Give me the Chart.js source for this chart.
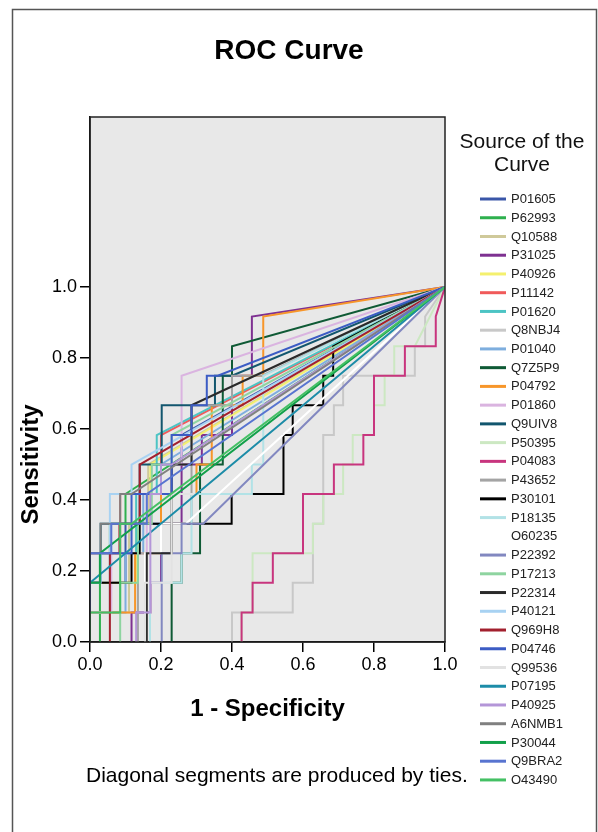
<!DOCTYPE html>
<html>
<head>
<meta charset="utf-8">
<script src="https://cdn.jsdelivr.net/npm/chart.js@4.4.0/dist/chart.umd.min.js"></script>
<style>
  html, body { margin: 0; padding: 0; background: #fff; }
  #wrap { width: 598px; height: 832px; }
</style>
</head>
<body>
<div id="wrap"><canvas id="roc" width="598" height="832"></canvas></div>
<script>
/* ---------- ROC curve data: [1 - specificity, sensitivity] ---------- */
const P01605 = [[0,0],[0,0.167],[0.1,0.167],[0.1,0.333],[0.2,0.333],[0.2,0.5],[0.258,0.5],[0.258,0.583],[1,1]];
const P62993 = [[0.028,0],[0.028,0.25],[0.056,0.25],[0.056,0.333],[0.1,0.333],[0.1,0.417],[1,1]];
const Q10588 = [[0,0],[0,0.083],[0.11,0.083],[0.11,0.333],[0.164,0.333],[0.164,0.5],[1,1]];
const P31025 = [[0.117,0],[0.117,0.083],[0.17,0.083],[0.17,0.167],[0.2,0.167],[0.2,0.333],[0.258,0.333],[0.258,0.5],[0.315,0.5],[0.315,0.583],[0.4,0.583],[0.4,0.75],[0.456,0.75],[0.456,0.917],[1,1]];
const P40926 = [[0,0],[0,0.167],[0.13,0.167],[0.13,0.333],[0.17,0.333],[0.17,0.5],[1,1]];
const P11142 = [[0,0],[0,0.25],[0.085,0.25],[0.085,0.417],[0.2,0.417],[0.2,0.583],[1,1]];
const P01620 = [[0,0],[0,0.083],[0.056,0.083],[0.056,0.25],[0.13,0.25],[0.13,0.417],[0.188,0.417],[0.188,0.583],[1,1]];
const Q8NBJ4 = [[0.4,0],[0.4,0.083],[0.571,0.083],[0.571,0.167],[0.628,0.167],[0.628,0.333],[0.657,0.333],[0.657,0.583],[0.687,0.583],[0.687,0.667],[0.713,0.667],[0.713,0.75],[0.915,0.75],[0.915,0.833],[0.944,0.833],[0.944,0.917],[1,1]];
const P01040 = [[0,0],[0,0.083],[0.1,0.083],[0.1,0.25],[0.15,0.25],[0.15,0.417],[0.2,0.417],[0.2,0.5],[1,1]];
const Q7Z5P9 = [[0.23,0],[0.23,0.167],[0.258,0.167],[0.258,0.25],[0.31,0.25],[0.31,0.5],[0.374,0.5],[0.374,0.75],[0.4,0.75],[0.4,0.833],[1,1]];
const P04792 = [[0,0],[0,0.083],[0.127,0.083],[0.127,0.25],[0.2,0.25],[0.2,0.417],[0.3,0.417],[0.3,0.5],[0.343,0.5],[0.343,0.667],[0.43,0.667],[0.43,0.75],[0.488,0.75],[0.488,0.917],[1,1]];
const P01860 = [[0,0],[0,0.083],[0.06,0.083],[0.06,0.25],[0.16,0.25],[0.16,0.417],[0.23,0.417],[0.23,0.5],[0.258,0.5],[0.258,0.75],[1,1]];
const Q9UIV8 = [[0,0],[0,0.167],[0.03,0.167],[0.03,0.333],[0.14,0.333],[0.14,0.5],[0.202,0.5],[0.202,0.667],[0.352,0.667],[0.352,0.75],[0.4,0.75],[1,1]];
const P50395 = [[0.427,0],[0.427,0.083],[0.458,0.083],[0.458,0.25],[0.628,0.25],[0.628,0.333],[0.657,0.333],[0.657,0.417],[0.713,0.417],[0.713,0.5],[0.74,0.5],[0.74,0.583],[0.8,0.583],[0.8,0.667],[0.83,0.667],[0.83,0.75],[0.857,0.75],[0.857,0.833],[0.915,0.833],[1,1]];
const P04083 = [[0.427,0],[0.427,0.083],[0.458,0.083],[0.458,0.167],[0.515,0.167],[0.515,0.25],[0.6,0.25],[0.6,0.417],[0.687,0.417],[0.687,0.5],[0.77,0.5],[0.77,0.583],[0.8,0.583],[0.8,0.75],[0.887,0.75],[0.887,0.833],[0.974,0.833],[0.974,0.917],[1,1]];
const P43652 = [[0.135,0],[0.135,0.25],[0.23,0.25],[0.23,0.333],[0.286,0.333],[0.286,0.667],[0.4,0.667],[0.4,0.75],[0.485,0.75],[1,1]];
const P30101 = [[0,0],[0,0.167],[0.117,0.167],[0.117,0.25],[0.14,0.25],[0.14,0.333],[0.399,0.333],[0.399,0.417],[0.545,0.417],[0.545,0.583],[0.571,0.583],[0.571,0.667],[0.657,0.667],[0.657,0.75],[0.685,0.75],[0.685,0.833],[1,1]];
const P18135 = [[0.169,0],[0.169,0.167],[0.258,0.167],[0.258,0.25],[0.286,0.25],[0.286,0.417],[0.456,0.417],[0.456,0.5],[0.488,0.5],[0.488,0.75],[1,1]];
const O60235 = [[0.155,0],[0.155,0.25],[0.2,0.25],[0.2,0.333],[0.27,0.333],[1,1]];
const P22392 = [[0.202,0],[0.202,0.25],[0.258,0.25],[0.258,0.333],[0.319,0.333],[1,1]];
const P17213 = [[0.085,0],[0.085,0.167],[0.135,0.167],[0.135,0.333],[0.174,0.333],[0.174,0.5],[0.23,0.5],[0.23,0.583],[1,1]];
const P22314 = [[0.16,0],[0.16,0.25],[0.23,0.25],[0.23,0.5],[0.286,0.5],[0.286,0.667],[1,1]];
const P40121 = [[0,0],[0,0.167],[0.03,0.167],[0.03,0.25],[0.056,0.25],[0.056,0.417],[0.117,0.417],[0.117,0.5],[1,1]];
const Q969H8 = [[0.056,0],[0.056,0.25],[0.083,0.25],[0.083,0.333],[0.14,0.333],[0.14,0.5],[1,1]];
const P04746 = [[0,0],[0,0.25],[0.117,0.25],[0.117,0.417],[0.23,0.417],[0.23,0.583],[0.286,0.583],[0.286,0.667],[0.329,0.667],[0.329,0.75],[0.36,0.75],[1,1]];
const Q99536 = [[0.155,0],[0.155,0.167],[0.23,0.167],[0.23,0.417],[0.3,0.417],[1,1]];
const P07195 = [[0,0],[0,0.167],[1,1]];
const P40925 = [[0.13,0],[0.13,0.083],[0.17,0.083],[0.17,0.417],[0.2,0.417],[0.2,0.5],[0.23,0.5],[1,1]];
const A6NMB1 = [[0,0],[0,0.25],[0.03,0.25],[0.03,0.333],[0.085,0.333],[0.085,0.417],[0.117,0.417],[1,1]];
const P30044 = [[0,0],[0,0.167],[0.028,0.167],[0.028,0.25],[1,1]];
const Q9BRA2 = [[0,0],[0,0.25],[0.06,0.25],[0.06,0.333],[0.16,0.333],[0.16,0.417],[1,1]];
const O43490 = [[0,0],[0,0.083],[0.085,0.083],[0.085,0.333],[0.117,0.333],[1,1]];

const curveNames = ['P01605','P62993','Q10588','P31025','P40926','P11142','P01620','Q8NBJ4',
  'P01040','Q7Z5P9','P04792','P01860','Q9UIV8','P50395','P04083','P43652','P30101','P18135',
  'O60235','P22392','P17213','P22314','P40121','Q969H8','P04746','Q99536','P07195','P40925',
  'A6NMB1','P30044','Q9BRA2','O43490'];
const curvePoints = [P01605,P62993,Q10588,P31025,P40926,P11142,P01620,Q8NBJ4,P01040,Q7Z5P9,
  P04792,P01860,Q9UIV8,P50395,P04083,P43652,P30101,P18135,O60235,P22392,P17213,P22314,
  P40121,Q969H8,P04746,Q99536,P07195,P40925,A6NMB1,P30044,Q9BRA2,O43490];
const curveColors = ['#3a56a8','#2eb04e','#cfc99a','#7e3191','#f4f06e','#f05a5a','#4cc4c4','#c8c8c8',
  '#7eaede','#0f5a35','#f7962a','#dab4e0','#12566e','#cce8c2','#c8357e','#a4a4a4','#000000','#b2e2e6',
  '#ffffff','#8288c0','#8ed4a0','#2a2a2a','#a8d2f2','#a2202e','#3c5cc4','#e2e2e2','#1c8ca8','#b496d8',
  '#808080','#12a04a','#5874d0','#44c064'];
const yTickValues = [0, 0.2, 0.4, 0.6, 0.8, 1.0];

const FONT = '"Liberation Sans", Arial, sans-serif';

// background, frame and all the SPSS style texts
const rocDecor = {
    id: 'rocDecor',
    beforeDraw(chart) {
        const { ctx, chartArea: a } = chart;
        ctx.save();
        ctx.fillStyle = '#fff';
        ctx.fillRect(0, 0, chart.width, chart.height);
        ctx.fillStyle = '#e8e8e8';
        ctx.fillRect(a.left, a.top, a.right - a.left, a.bottom - a.top);
        ctx.restore();
    },
    afterDraw(chart) {
        const { ctx, chartArea: a } = chart;
        const yScale = chart.scales.y;
        ctx.save();

        // plot box
        ctx.strokeStyle = '#222';
        ctx.lineWidth = 1.5;
        ctx.strokeRect(a.left, a.top, a.right - a.left, a.bottom - a.top);

        // outer frame
        ctx.strokeStyle = '#555';
        ctx.lineWidth = 1.5;
        ctx.strokeRect(12.5, 9.5, 584, 900);

        ctx.fillStyle = '#000';
        ctx.textBaseline = 'alphabetic';

        // title
        ctx.font = 'bold 28px ' + FONT;
        ctx.textAlign = 'center';
        ctx.fillText('ROC Curve', 289, 59);

        // x axis title
        ctx.font = 'bold 24px ' + FONT;
        ctx.fillText('1 - Specificity', (a.left + a.right) / 2, 716);

        // y axis title
        ctx.save();
        ctx.translate(38, yScale.getPixelForValue(0.5));
        ctx.rotate(-Math.PI / 2);
        ctx.fillText('Sensitivity', 0, 0);
        ctx.restore();

        // footnote
        ctx.font = '21px ' + FONT;
        ctx.textAlign = 'left';
        ctx.fillText('Diagonal segments are produced by ties.', 86, 782);

        // legend
        ctx.font = '21px ' + FONT;
        ctx.textAlign = 'center';
        ctx.fillStyle = '#111';
        ctx.fillText('Source of the', 522, 148);
        ctx.fillText('Curve', 522, 171);

        ctx.font = '13px ' + FONT;
        ctx.textAlign = 'left';
        ctx.textBaseline = 'middle';
        chart.data.datasets.forEach((ds, i) => {
            const y = 199 + i * 18.74;
            ctx.strokeStyle = ds.borderColor;
            ctx.lineWidth = 3;
            ctx.beginPath();
            ctx.moveTo(480, y);
            ctx.lineTo(506, y);
            ctx.stroke();
            ctx.fillStyle = '#222';
            ctx.fillText(ds.label, 511, y + 0.5);
        });

        ctx.restore();
    }
};

const datasets = curveNames.map((name, i) => ({
    label: name,
    data: curvePoints[i].map(p => ({ x: p[0], y: p[1] })),
    borderColor: curveColors[i],
    backgroundColor: curveColors[i],
    borderWidth: 2,
    pointRadius: 0,
    tension: 0,
    fill: false,
    order: curveNames.length - i   // later curves drawn on top
}));

const ctx = document.getElementById('roc').getContext('2d');
const rocChart = new Chart(ctx, {
    type: 'line',
    data: { datasets },
    options: {
        responsive: false,
        animation: false,
        events: [],
        layout: { padding: { left: 0, top: 117, right: 153, bottom: 0 } },
        plugins: {
            legend: { display: false },
            title: { display: false },
            tooltip: { enabled: false }
        },
        scales: {
            x: {
                type: 'linear',
                min: 0,
                max: 1,
                ticks: {
                    stepSize: 0.2,
                    color: '#000',
                    padding: 2,
                    maxRotation: 0,
                    font: { family: FONT, size: 18 },
                    callback: v => v.toFixed(1)
                },
                grid: { drawOnChartArea: false, drawTicks: true, tickLength: 10, color: '#000', lineWidth: 1.5 },
                border: { display: true, color: '#000', width: 1.5 },
                afterFit: s => { s.height = 190; }
            },
            y: {
                type: 'linear',
                min: 0,
                max: 1.479,
                afterBuildTicks: s => { s.ticks = yTickValues.map(v => ({ value: v })); },
                ticks: {
                    color: '#000',
                    padding: 3,
                    font: { family: FONT, size: 18 },
                    callback: v => v.toFixed(1)
                },
                grid: { drawOnChartArea: false, drawTicks: true, tickLength: 10, color: '#000', lineWidth: 1.5 },
                border: { display: true, color: '#000', width: 1.5 },
                afterFit: s => { s.width = 90; }
            }
        }
    },
    plugins: [rocDecor]
});
</script>
</body>
</html>
